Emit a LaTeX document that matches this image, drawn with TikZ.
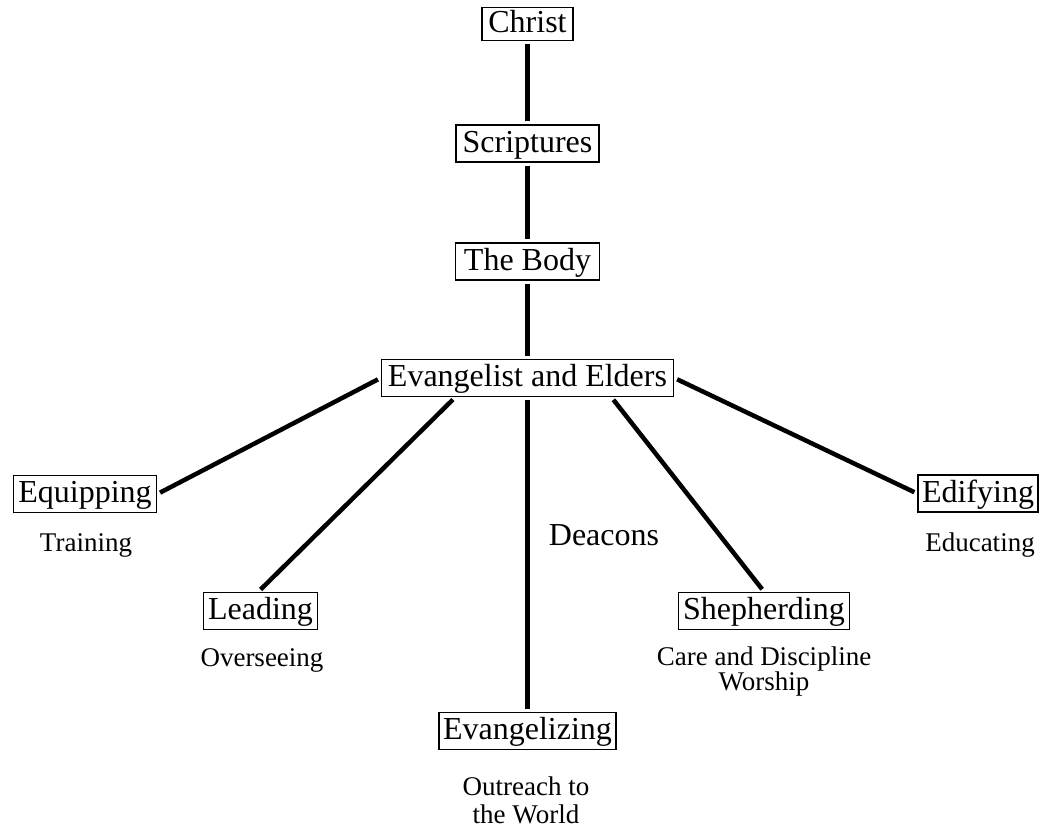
\documentclass[tikz,border=0pt]{standalone}
\usepackage{fontspec}
\setmainfont{Liberation Serif}
\begin{document}
\begin{tikzpicture}[x=1pt,y=-1pt,
  box/.style={draw,line width=1.8pt,font=\fontsize{32}{36}\selectfont,
    inner xsep=4pt,inner ysep=0pt,text height=24pt,text depth=7pt,minimum height=37pt},
  sub/.style={font=\fontsize{27}{25}\selectfont,align=center,inner sep=0pt,anchor=north},
  subwide/.style={font=\fontsize{27}{27.5}\selectfont,align=center,inner sep=0pt,anchor=north},
  main/.style={font=\fontsize{32}{36}\selectfont,inner sep=0pt,anchor=base},
  link/.style={line width=4.5pt,shorten <=3pt,shorten >=3pt}]
\useasboundingbox (0,0) rectangle (1042,830);
% boxes
\node[box,minimum width=91pt,minimum height=33pt] (christ) at (527.5,24) {Christ};
\node[box,minimum width=143pt] (scrip) at (527.5,143.5) {Scriptures};
\node[box,minimum width=144pt] (body) at (527.5,261.5) {The Body};
\node[box,minimum width=292pt] (ee) at (527.5,378) {Evangelist and Elders};
\node[box,minimum width=143pt] (equip) at (85,494) {Equipping};
\node[box,minimum width=114pt] (lead) at (260.5,611) {Leading};
\node[box,minimum width=176pt] (evz) at (527.5,731) {Evangelizing};
\node[box,minimum width=171pt] (shep) at (764,611) {Shepherding};
\node[box,minimum width=115pt] (edify) at (978,493.5) {Edifying};
% connectors
\draw[link] (christ) -- (scrip);
\draw[link] (scrip) -- (body);
\draw[link] (body) -- (ee);
\draw[link] (ee) -- (evz);
\draw[link] (ee.west) -- (equip.east);
\draw[link] (ee.east) -- (edify.west);
\draw[link] (ee.195.2) -- ([xshift=-2pt]lead.north);
\draw[link] (ee.347.6) -- (shep.north);
% labels
\node[main] (deacons) at (604,545) {Deacons};
\node[sub] (training) at (86,533) {Training};
\node[sub] (overseeing) at (262,648) {Overseeing};
\node[sub] (educating) at (980,533) {Educating};
\node[sub] (care) at (764,647) {Care and Discipline\\Worship};
\node[subwide] (outreach) at (526,777) {Outreach to\\the World};
\end{tikzpicture}
\end{document}
